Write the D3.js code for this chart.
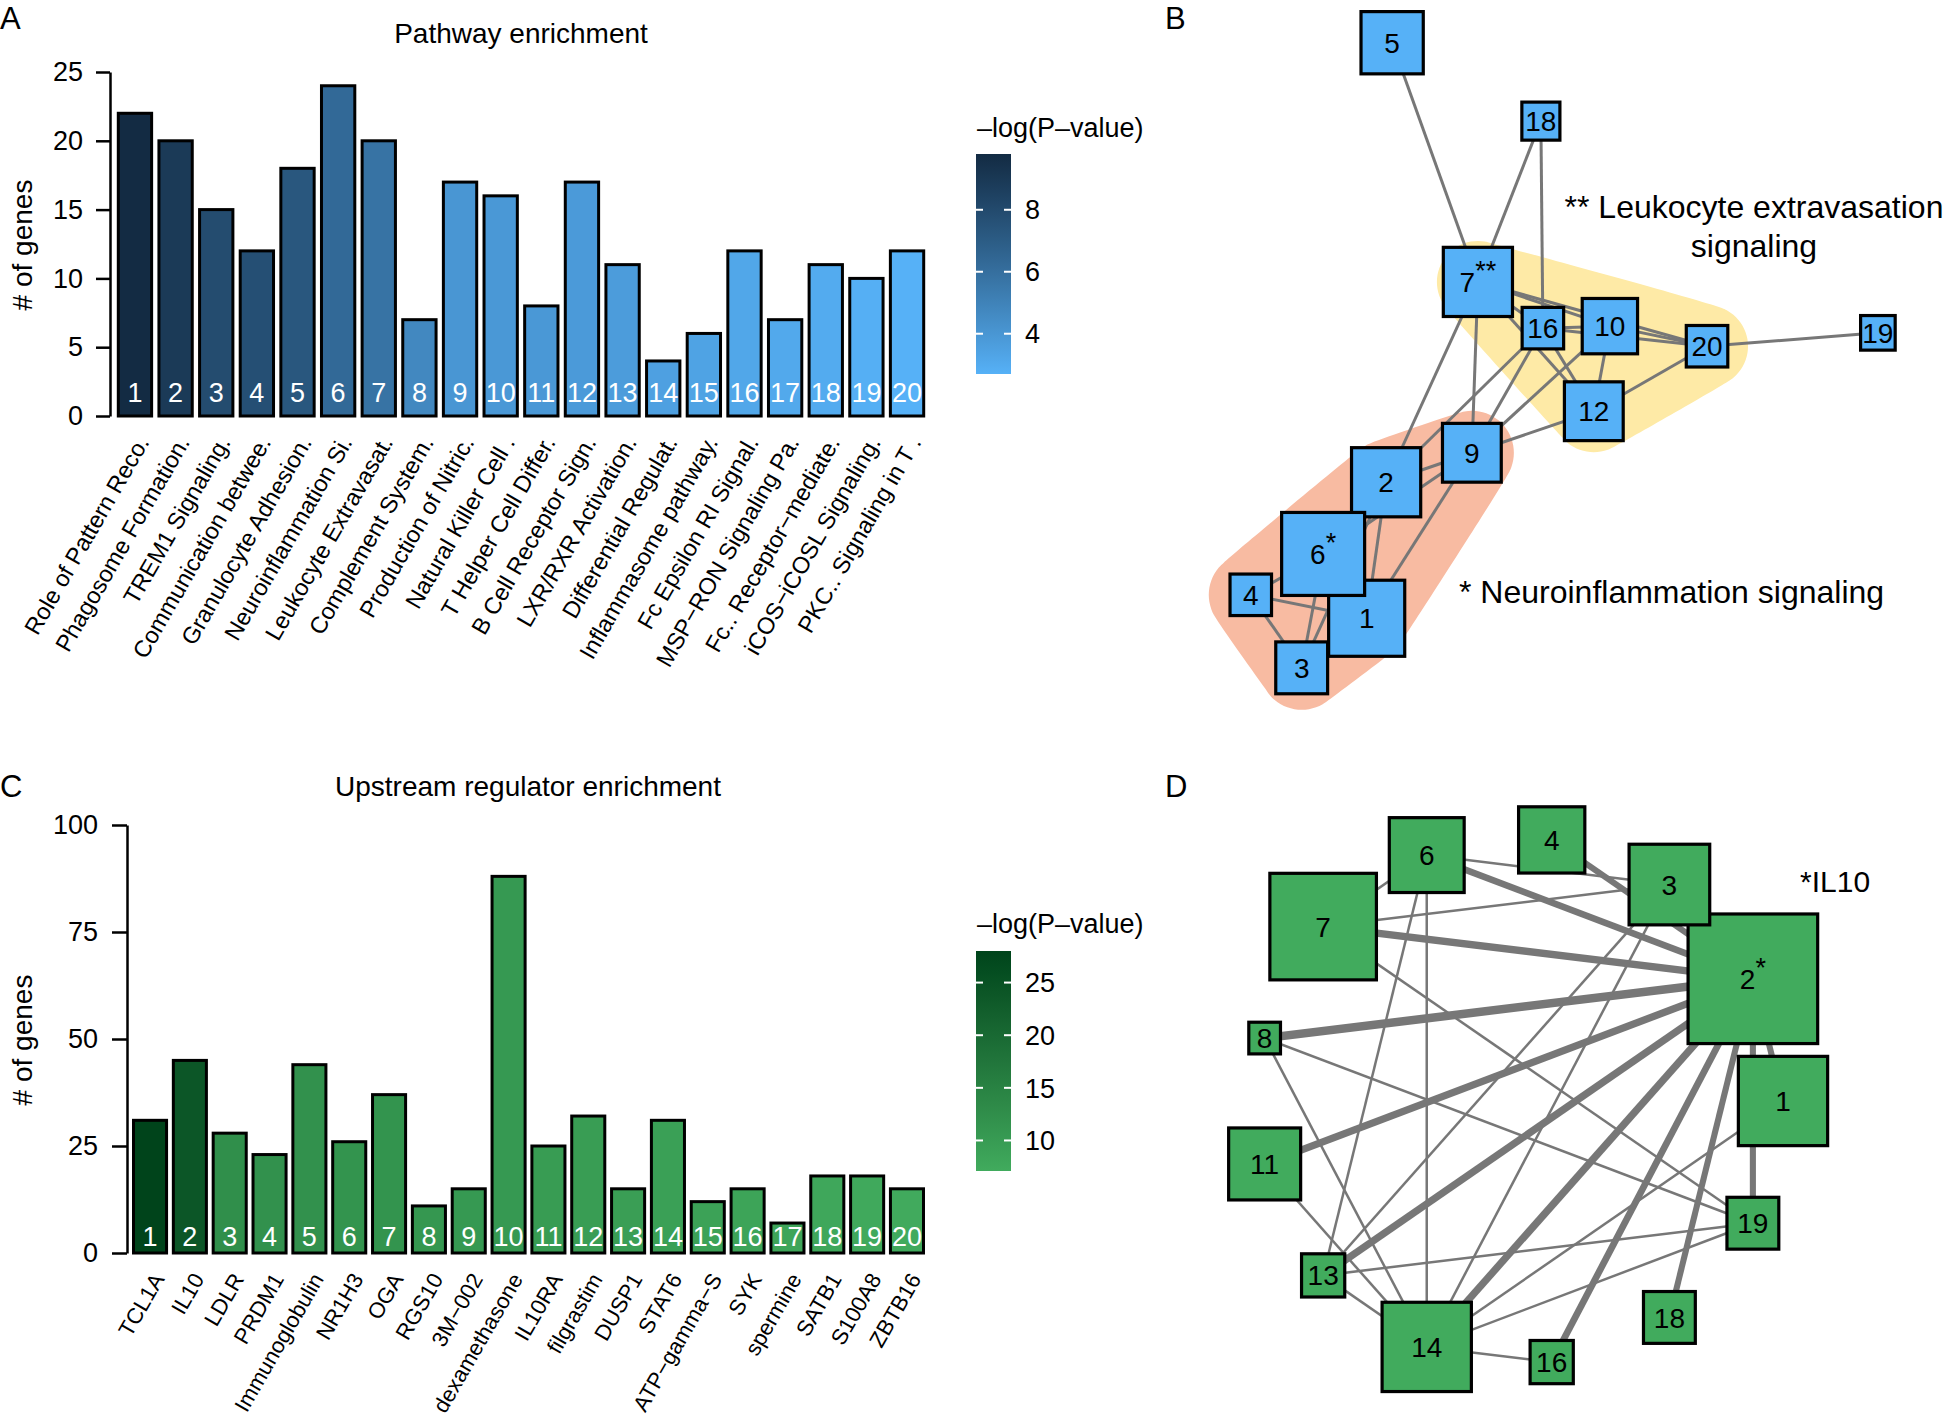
<!DOCTYPE html>
<html><head><meta charset="utf-8">
<script src="https://cdn.jsdelivr.net/npm/d3@7"></script>
<style>
body{margin:0;background:#fff}
text{font-family:"Liberation Sans",Arial,Helvetica,sans-serif;fill:#000}
</style>
</head><body>
<svg id="fig" width="1946" height="1423"></svg>
<script>
// ---------------- DATA ----------------
const pathwayLabels = ["Role of Pattern Reco.","Phagosome Formation.","TREM1 Signaling.","Communication betwee.","Granulocyte Adhesion.","Neuroinflammation Si.","Leukocyte Extravasat.","Complement System.","Production of Nitric.","Natural Killer Cell .","T Helper Cell Differ.","B Cell Receptor Sign.","LXR/RXR Activation.","Differential Regulat.","Inflammasome pathway.","Fc Epsilon RI Signal.","MSP\u2212RON Signaling Pa.","Fc.. Receptor\u2212mediate.","iCOS\u2212iCOSL Signaling.","PKC.. Signaling in T ."];
const pathwayGenes = [22,20,15,12,18,24,20,7,17,16,8,17,11,4,6,12,7,11,10,12];
const pathwayLogP = [9.8,8.9,7.9,7.7,7.3,6.3,5.8,4.7,4.0,3.9,3.9,3.8,3.7,3.5,3.4,3.2,3.1,3.0,2.8,2.7];
const pathwayLogPRange = [2.7,9.8];
const pathwayYTicks = [0,5,10,15,20,25];
const pathwayLegendTicks = [4,6,8];

const regulatorLabels = ["TCL1A","IL10","LDLR","PRDM1","Immunoglobulin","NR1H3","OGA","RGS10","3M\u2212002","dexamethasone","IL10RA","filgrastim","DUSP1","STAT6","ATP\u2212gamma\u2212S","SYK","spermine","SATB1","S100A8","ZBTB16"];
const regulatorGenes = [31,45,28,23,44,26,37,11,15,88,25,32,15,31,12,15,7,18,18,15];
const regulatorLogP = [28,24,12.5,12,12,11.5,11.5,11,10.5,10.5,10,9.8,9.5,9.2,8.8,8.5,8.2,7.8,7.5,7.2];
const regulatorLogPRange = [7.1,28];
const regulatorYTicks = [0,25,50,75,100];
const regulatorLegendTicks = [10,15,20,25];

// Network B (pathway overlap), layout coordinates on a 0-100 grid
const netBNodes   = [1,2,3,4,5,6,7,9,10,12,16,18,19,20];
const netBLayoutX = [20.4,23.3,10.7,3.1,24.2,13.9,37.0,36.1,56.7,54.3,46.7,46.4,96.7,71.2];
const netBLayoutY = [87.8,67.5,95.2,84.3,1.9,78.2,37.6,63.1,44.2,56.9,44.5,13.6,45.2,47.2];
const netBEdges = [[5,7],[18,7],[18,16],[7,16],[7,10],[7,12],[7,20],[16,10],[16,12],[16,20],[10,20],[10,12],[12,20],[20,19],[9,7],[9,16],[9,10],[9,12],[2,7],[2,16],[2,9],[6,9],[2,1],[9,1],[6,2],[4,6],[4,1],[4,3],[6,3],[3,2]];
const netBGroupNeuro = [2,9,6,4,1,3];
const netBGroupLeuko = [7,16,10,20,12];

// Network D (regulator overlap), circular layout order
const netDNodes = [1,2,3,4,6,7,8,11,13,14,16,18,19];
const netDEdges = [[6,3],[6,2],[4,2],[7,6],[7,3],[7,2],[7,19],[6,13],[6,14],[8,2],[8,19],[8,14],[11,2],[11,14],[3,13],[3,14],[13,2],[13,19],[13,14],[14,2],[14,1],[14,19],[14,16],[16,2],[18,2],[2,19],[2,1]];
const netDEdgeWeights = [1,4.5,4,1,1,5,1,1,1,6,1,1,5,1,1,1,5,1,1,5,1,1,1,4.5,4,4,4];

// ---------------- DRAWING ----------------
const svg = d3.select("#fig");
const FONT = '"Liberation Sans",Arial,Helvetica,sans-serif';

function barPanel(o){
  const x = d3.scaleBand().domain(d3.range(o.genes.length)).range(o.xRange).paddingInner(o.pad).paddingOuter(0);
  const y = d3.scaleLinear().domain(o.yDomain).range(o.yRange);
  const col = d3.scaleLinear().domain(o.cDomain).range(o.cRange).interpolate(d3.interpolateLab);
  const g = svg.append("g");
  g.append("text").attr("x",o.titleX).attr("y",o.titleY).attr("text-anchor","middle").attr("font-size",28).text(o.title);
  g.append("text").attr("transform",`translate(32,${o.yLabelY}) rotate(-90)`).attr("text-anchor","middle").attr("font-size",28).text("# of genes");
  const ax = g.append("g").attr("transform",`translate(${o.axisX},0)`)
    .call(d3.axisLeft(y).tickValues(o.yTicks).tickSize(o.tickSize).tickSizeOuter(0).tickPadding(o.tickPad));
  ax.select(".domain").attr("stroke","#000").attr("stroke-width",2.5);
  ax.selectAll(".tick line").attr("stroke","#000").attr("stroke-width",2.5);
  ax.selectAll(".tick text").attr("font-size",27).attr("font-family",FONT).attr("fill","#000");
  g.selectAll("rect.bar").data(o.genes).join("rect").attr("class","bar")
    .attr("x",(d,i)=>x(i)).attr("width",x.bandwidth())
    .attr("y",d=>y(d)).attr("height",d=>y(0)-y(d))
    .attr("fill",(d,i)=>col(o.logp[i])).attr("stroke","#000").attr("stroke-width",3);
  g.selectAll("text.num").data(o.genes).join("text").attr("class","num")
    .attr("x",(d,i)=>x(i)+x.bandwidth()/2).attr("y",y(0)-o.numOff)
    .attr("text-anchor","middle").attr("font-size",27).style("fill","#fff").text((d,i)=>i+1);
  g.selectAll("text.xl").data(o.labels).join("text").attr("class","xl")
    .attr("transform",(d,i)=>`translate(${x(i)+x.bandwidth()/2+15},${y(0)+26}) rotate(-60)`)
    .attr("text-anchor","end").attr("font-size",o.xFont).text(d=>d);
  // legend
  const ly = d3.scaleLinear().domain(o.cDomain).range(o.legY);
  const gid = "grad"+o.id;
  const grad = svg.append("defs").append("linearGradient").attr("id",gid).attr("x1",0).attr("x2",0).attr("y1",1).attr("y2",0);
  d3.range(0,1.0001,0.1).forEach(t=>{
    const v = o.cDomain[0]+t*(o.cDomain[1]-o.cDomain[0]);
    grad.append("stop").attr("offset",t).attr("stop-color",col(v));
  });
  const lx0 = 976, lw = 35;
  g.append("rect").attr("x",lx0).attr("y",o.legY[1]).attr("width",lw).attr("height",o.legY[0]-o.legY[1]).attr("fill",`url(#${gid})`);
  o.legTicks.forEach(t=>{
    g.append("line").attr("x1",lx0).attr("x2",lx0+7).attr("y1",ly(t)).attr("y2",ly(t)).attr("stroke","#fff").attr("stroke-width",2);
    g.append("line").attr("x1",lx0+lw-7).attr("x2",lx0+lw).attr("y1",ly(t)).attr("y2",ly(t)).attr("stroke","#fff").attr("stroke-width",2);
    g.append("text").attr("x",1025).attr("y",ly(t)).attr("dy","0.36em").attr("font-size",27).text(t);
  });
  g.append("text").attr("x",977).attr("y",o.legTitleY).attr("font-size",27).text("\u2013log(P\u2013value)");
}

barPanel({id:"A",genes:pathwayGenes,logp:pathwayLogP,labels:pathwayLabels,title:"Pathway enrichment",
  titleX:521,titleY:43,yLabelY:245,xRange:[118.3,923.7],pad:0.18,yDomain:[0,25],yRange:[416,72],
  yTicks:pathwayYTicks,axisX:110,tickSize:14,tickPad:13,numOff:14,xFont:23.5,
  cDomain:pathwayLogPRange,cRange:["#56B1F7","#132B43"],legY:[374,154],legTicks:pathwayLegendTicks,legTitleY:137});

barPanel({id:"C",genes:regulatorGenes,logp:regulatorLogP,labels:regulatorLabels,title:"Upstream regulator enrichment",
  titleX:528,titleY:796,yLabelY:1040,xRange:[133.5,923.5],pad:0.17,yDomain:[0,100],yRange:[1253,825],
  yTicks:regulatorYTicks,axisX:127,tickSize:15,tickPad:14,numOff:7,xFont:22,
  cDomain:regulatorLogPRange,cRange:["#41AB5D","#00441B"],legY:[1171,951],legTicks:regulatorLegendTicks,legTitleY:933});

// panel letters
[["A",0,29],["B",1165,29],["C",0,797],["D",1165,797]].forEach(([t,x,y])=>{
  svg.append("text").attr("x",x).attr("y",y).attr("font-size",31).text(t);
});

// ---------- Network B ----------
(function(){
  const bx = d3.scaleLinear().domain([0,100]).range([1230,1900]);
  const by = d3.scaleLinear().domain([0,100]).range([30,700]);
  const size = d3.scaleLinear().domain([0,24]).range([0,83]);
  const pos = {};
  netBNodes.forEach((n,i)=>{ pos[n] = {x:bx(netBLayoutX[i]), y:by(netBLayoutY[i]), s:size(pathwayGenes[n-1])}; });
  const g = svg.append("g");
  const hull = (members, color, r)=>{
    const pts = [];
    members.forEach(m=>{ for(let k=0;k<36;k++){ const a=k/36*2*Math.PI; pts.push([pos[m].x+r*Math.cos(a), pos[m].y+r*Math.sin(a)]); } });
    const h = d3.polygonHull(pts);
    g.append("path").attr("d", d3.line().curve(d3.curveCatmullRomClosed)(h)).attr("fill",color).attr("stroke","none");
  };
  hull(netBGroupNeuro, "#F8BBA2", 42);
  hull(netBGroupLeuko, "#FEEAA6", 41);
  g.selectAll("line.e").data(netBEdges).join("line").attr("class","e")
    .attr("x1",d=>pos[d[0]].x).attr("y1",d=>pos[d[0]].y).attr("x2",d=>pos[d[1]].x).attr("y2",d=>pos[d[1]].y)
    .attr("stroke","#777").attr("stroke-width",3);
  const nodes = g.selectAll("g.n").data(netBNodes).join("g").attr("class","n");
  nodes.append("rect").attr("x",d=>pos[d].x-pos[d].s/2).attr("y",d=>pos[d].y-pos[d].s/2)
    .attr("width",d=>pos[d].s).attr("height",d=>pos[d].s).attr("fill","#56B1F7").attr("stroke","#000").attr("stroke-width",3.2);
  nodes.append("text").attr("x",d=>pos[d].x).attr("y",d=>pos[d].y).attr("dy","0.36em").attr("text-anchor","middle")
    .attr("font-size",28).each(function(d){
      const t = d3.select(this);
      const sup = d===7 ? "**" : d===6 ? "*" : "";
      t.append("tspan").text(d);
      if(sup) t.append("tspan").attr("dy","-0.45em").attr("font-size",27).text(sup);
    });
  g.append("text").attr("x",1754).attr("y",218).attr("text-anchor","middle").attr("font-size",32).text("** Leukocyte extravasation");
  g.append("text").attr("x",1754).attr("y",257).attr("text-anchor","middle").attr("font-size",32).text("signaling");
  g.append("text").attr("x",1459).attr("y",603).attr("font-size",32).text("* Neuroinflammation signaling");
})();

// ---------- Network D ----------
(function(){
  const n = netDNodes.length;
  const ang = d3.scaleLinear().domain([0,n]).range([0,2*Math.PI]);
  const dx = d3.scaleLinear().domain([-1,1]).range([1257,1783]);
  const dy = d3.scaleLinear().domain([-1,1]).range([1364,838]);
  const size = d3.scaleLinear().domain([0,45]).range([0,129.6]);
  const width = d3.scaleLinear().domain([1,6]).range([2.5,8.5]);
  const pos = {};
  netDNodes.forEach((v,i)=>{ pos[v] = {x:dx(Math.cos(ang(i))), y:dy(Math.sin(ang(i))), s:size(regulatorGenes[v-1])}; });
  const g = svg.append("g");
  g.selectAll("line.e").data(netDEdges).join("line").attr("class","e")
    .attr("x1",d=>pos[d[0]].x).attr("y1",d=>pos[d[0]].y).attr("x2",d=>pos[d[1]].x).attr("y2",d=>pos[d[1]].y)
    .attr("stroke","#777").attr("stroke-width",(d,i)=>width(netDEdgeWeights[i]));
  const nodes = g.selectAll("g.n").data(netDNodes).join("g").attr("class","n");
  nodes.append("rect").attr("x",d=>pos[d].x-pos[d].s/2).attr("y",d=>pos[d].y-pos[d].s/2)
    .attr("width",d=>pos[d].s).attr("height",d=>pos[d].s).attr("fill","#41AB5D").attr("stroke","#000").attr("stroke-width",3.2);
  nodes.append("text").attr("x",d=>pos[d].x).attr("y",d=>pos[d].y).attr("dy","0.36em").attr("text-anchor","middle")
    .attr("font-size",28).each(function(d){
      const t = d3.select(this);
      t.append("tspan").text(d);
      if(d===2) t.append("tspan").attr("dy","-0.45em").attr("font-size",27).text("*");
    });
  g.append("text").attr("x",1800).attr("y",892).attr("font-size",30).text("*IL10");
})();
</script>
</body></html>
